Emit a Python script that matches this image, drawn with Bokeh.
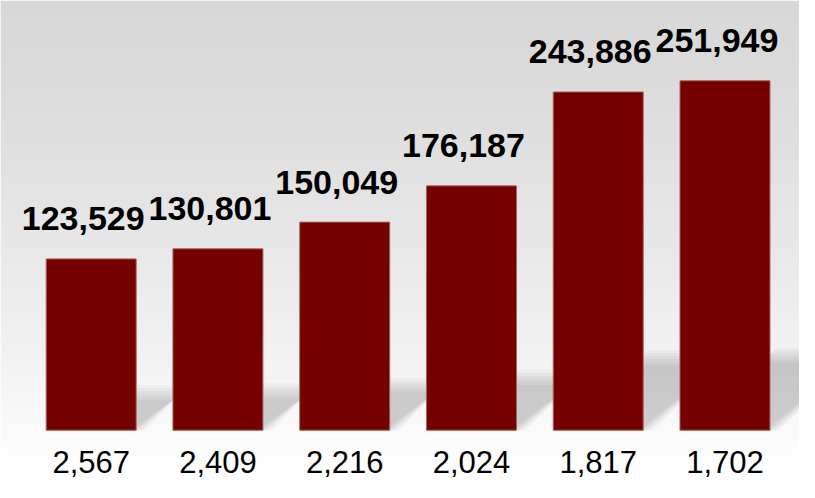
from bokeh.plotting import figure
from bokeh.models import ColumnDataSource, Range1d
from bokeh.core.properties import value
from bokeh.embed import file_html
from bokeh.resources import INLINE

# ---- data ----
categories = ["2,567", "2,409", "2,216", "2,024", "1,817", "1,702"]
values = [123529, 130801, 150049, 176187, 243886, 251949]
value_labels = ["123,529", "130,801", "150,049", "176,187", "243,886", "251,949"]

# ---- layout constants ----
W, H = 799, 482
SX, SY = W / 815.0, H / 498.0
PX_PER_CAT = 129.3 * SX     # horizontal pixels per category slot
UPP = 697.8 / SY            # data units per vertical pixel
ZERO_PX = 444 * SY          # pixel row of the bar baseline
FIRST_PX = 92.5 * SX        # pixel column of the first bar centre
BAR_W = 0.71

x0 = -FIRST_PX / PX_PER_CAT
x_range = Range1d(x0, x0 + W / PX_PER_CAT)
y_range = Range1d(-(H - ZERO_PX) * UPP, ZERO_PX * UPP)

p = figure(width=W, height=H, x_range=x_range, y_range=y_range,
           output_backend="svg", toolbar_location=None, min_border=0,
           x_axis_location=None, y_axis_location=None)
p.grid.visible = False
p.outline_line_color = None
p.background_fill_color = "white"
p.border_fill_color = "white"

# ---- background gradient (grey top -> white bottom) ----
n = 100
step = 5
g_left, g_right, g_top, g_bot, g_col = [], [], [], [], []
for k in range(n):
    y_px0 = k * step
    y_px1 = y_px0 + step + 1
    t = min(1.0, (y_px0 + step / 2) / 465.0)
    c = int(round(216 + (254 - 216) * t ** 1.4))
    g_left.append(x_range.start)
    g_right.append(x_range.end)
    g_top.append((ZERO_PX - y_px0) * UPP)
    g_bot.append((ZERO_PX - y_px1) * UPP)
    g_col.append("#%02x%02x%02x" % (c, c, c))
p.quad(left=g_left, right=g_right, top=g_top, bottom=g_bot,
       fill_color=g_col, line_color=None)

# ---- soft cast shadows behind the bars ----
idx = list(range(len(values)))
for d in [9, 6, 3, 0, -3, -6]:
    xs, ys = [], []
    for i, v in zip(idx, values):
        xl = i - BAR_W / 2
        xr = i + BAR_W / 2
        L = 0.21 * v
        s = 1.2 * (L / UPP) / PX_PER_CAT
        dx = d / PX_PER_CAT
        xs.append([xl, xr + dx, xr + s + dx, xl + s + dx])
        ys.append([0, 0, L + d * UPP, L + d * UPP])
    p.patches(xs=xs, ys=ys, fill_color="black", fill_alpha=0.03, line_color=None)

# ---- bars ----
src = ColumnDataSource(dict(x=idx, top=values, cat=categories, lab=value_labels,
                            ly=[v + 40 * UPP for v in values],
                            cy=[-(461 - ZERO_PX) * UPP] * len(values)))
p.vbar(x="x", top="top", bottom=0, width=BAR_W, source=src,
       fill_color="#750000", line_color="#a86464", line_width=1)

# ---- value labels above bars ----
p.text(x="x", y="ly", text="lab", source=src, text_align="center",
       text_baseline="alphabetic", x_offset=-8,
       text_font=value("Liberation Sans"), text_font_style="bold",
       text_font_size="34px", text_color="#000000")

# ---- category labels below bars ----
p.text(x="x", y="cy", text="cat", source=src, text_align="center",
       text_baseline="alphabetic",
       text_font=value("Liberation Sans"),
       text_font_size="31px", text_color="#000000")

open("out.html", "w").write(file_html(p, INLINE))
